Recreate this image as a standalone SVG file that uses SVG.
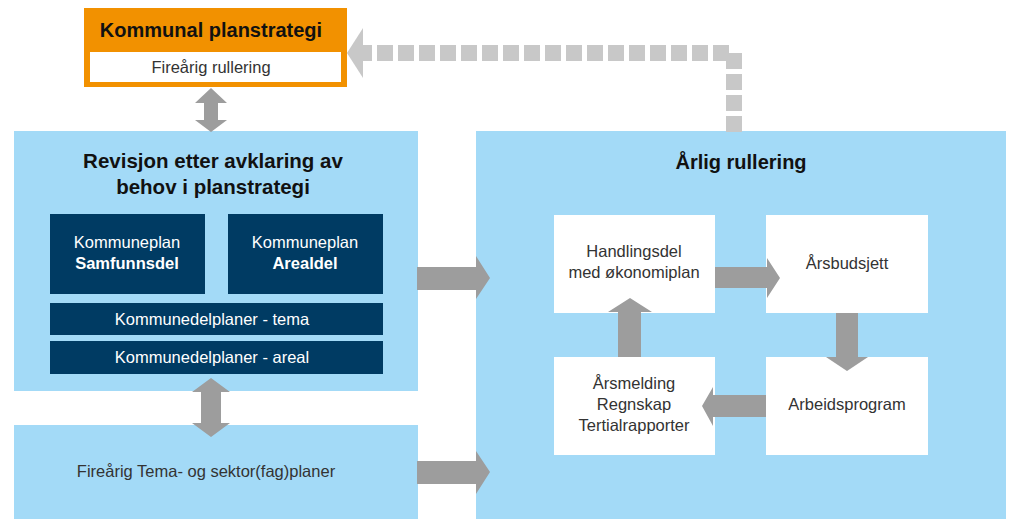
<svg xmlns="http://www.w3.org/2000/svg" width="1013" height="526" viewBox="0 0 1013 526">
<style>
.light{fill:#a3daf7}
.dark{fill:#003b63}
.white{fill:#ffffff}
.arr{fill:#9d9d9d}
text{font-family:"Liberation Sans",Arial,sans-serif;text-anchor:middle}
.title{font-size:20px;font-weight:bold;fill:#111}
.t{font-size:16.5px;fill:#333}
.tw{font-size:16.5px;fill:#fff}
.b{font-weight:bold}
</style>
<rect width="1013" height="526" fill="#fff"/>
<g id="kommunal-planstrategi">
<rect x="84" y="8" width="263" height="79" fill="#f29100"/>
<rect x="90" y="52" width="251" height="30" class="white"/>
<text x="211" y="37" class="title">Kommunal planstrategi</text>
<text x="211" y="73" class="t">Fireårig rullering</text>
</g>
<g id="revisjon">
<rect x="14" y="131" width="404" height="260" class="light"/>
<text x="213" y="168" class="title" style="font-size:20.5px">Revisjon etter avklaring av</text>
<text x="213" y="194" class="title" style="font-size:20.5px">behov i planstrategi</text>
</g>
<g id="samfunnsdel">
<rect x="50" y="214" width="155" height="80" class="dark"/>
<text x="127" y="248" class="tw">Kommuneplan</text>
<text x="127" y="269" class="tw b">Samfunnsdel</text>
</g>
<g id="arealdel">
<rect x="228" y="214" width="155" height="80" class="dark"/>
<text x="305" y="248" class="tw">Kommuneplan</text>
<text x="305" y="269" class="tw b">Arealdel</text>
</g>
<g id="kdp-tema">
<rect x="50" y="303" width="333" height="32" class="dark"/>
<text x="212" y="325" class="tw">Kommunedelplaner - tema</text>
</g>
<g id="kdp-areal">
<rect x="50" y="341" width="333" height="33" class="dark"/>
<text x="212" y="363" class="tw">Kommunedelplaner - areal</text>
</g>
<g id="tema-sektor">
<rect x="14" y="425" width="404" height="94" class="light"/>
<text x="206" y="477" class="t">Fireårig Tema- og sektor(fag)planer</text>
</g>
<g id="arlig-rullering">
<rect x="476" y="131" width="530" height="388" class="light"/>
<text x="741" y="169" class="title">Årlig rullering</text>
</g>
<g id="handlingsdel">
<rect x="554" y="215" width="161" height="98" class="white"/>
<text x="634" y="257" class="t">Handlingsdel</text>
<text x="634" y="278" class="t">med økonomiplan</text>
</g>
<g id="arsbudsjett">
<rect x="766" y="215" width="162" height="98" class="white"/>
<text x="847" y="269" class="t">Årsbudsjett</text>
</g>
<g id="arbeidsprogram">
<rect x="766" y="357" width="162" height="98" class="white"/>
<text x="847" y="410" class="t">Arbeidsprogram</text>
</g>
<g id="arsmelding">
<rect x="554" y="357" width="161" height="98" class="white"/>
<text x="634" y="389" class="t">Årsmelding</text>
<text x="634" y="410" class="t">Regnskap</text>
<text x="634" y="431" class="t">Tertialrapporter</text>
</g>
<g id="connectors">
<path d="M734,132 V53 H363" fill="none" stroke="#c8c8c8" stroke-width="16" stroke-dasharray="16 5"/>
<polygon points="363,28 347,53 363,78" fill="#c8c8c8"/>
<polygon class="arr" points="211,88 227,103 218,103 218,120 227,120 211,132 195,120 204,120 204,103 195,103"/>
<polygon class="arr" points="211,378 230,392 221,392 221,423 230,423 211,437 192,423 201,423 201,392 192,392"/>
<polygon class="arr" points="417,267 476,267 476,256 490,278 476,299 476,290 417,290"/>
<polygon class="arr" points="417,461 476,461 476,451 490,472 476,494 476,484 417,484"/>
<polygon class="arr" points="715,267 767,267 767,258 780,278 767,298 767,288 715,288"/>
<polygon class="arr" points="836,313 858,313 858,357 868,357 847,371 826,357 836,357"/>
<polygon class="arr" points="766,395 766,417 713,417 713,426 702,406 713,387 713,395"/>
<polygon class="arr" points="618,357 641,357 641,312 652,312 630,298 608,312 618,312"/>
</g>
</svg>
